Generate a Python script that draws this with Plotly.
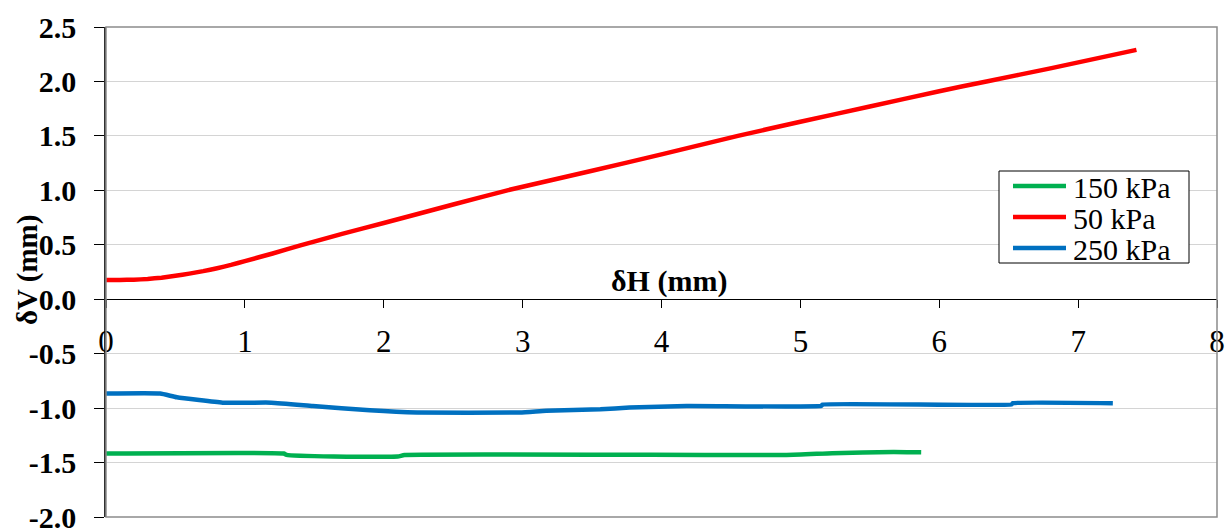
import plotly.graph_objects as go

# Horizontal displacement (mm) vs vertical displacement (mm) per normal stress
x_50 = [0, 0.1, 0.2, 0.3, 0.4, 0.5, 0.6, 0.7, 0.8, 0.9, 1.0, 1.2, 1.4, 1.7, 2.0,
        2.5, 2.89, 3.5, 4.0, 4.55, 5.0, 5.5, 6.0, 6.34, 6.8, 7.42]
y_50 = [0.177, 0.177, 0.179, 0.186, 0.198, 0.215, 0.235, 0.258, 0.285, 0.315,
        0.35, 0.42, 0.495, 0.60, 0.70, 0.87, 1.0, 1.18, 1.33, 1.50, 1.63, 1.77,
        1.91, 2.0, 2.12, 2.29]

x_150 = [0, 1.28, 1.30, 1.64, 2.10, 2.15, 4.90, 5.23, 5.67, 5.87]
y_150 = [-1.417, -1.417, -1.43, -1.445, -1.445, -1.43, -1.43, -1.414, -1.402, -1.405]

x_250 = [0, 0.39, 0.51, 0.84, 1.19, 1.49, 1.90, 2.24, 2.98, 3.17, 3.56, 3.77,
         4.18, 5.15, 5.16, 6.52, 6.53, 7.25]
y_250 = [-0.866, -0.866, -0.90, -0.95, -0.95, -0.98, -1.02, -1.04, -1.04, -1.025,
         -1.01, -0.995, -0.98, -0.98, -0.967, -0.967, -0.955, -0.955]

series_names = ["150 kPa", "50 kPa", "250 kPa"]
series_colors = ["#00B050", "#FF0000", "#0070C0"]

y_tickvals = [-2.0, -1.5, -1.0, -0.5, 0.0, 0.5, 1.0, 1.5, 2.0, 2.5]
y_ticktext = ["-2.0", "-1.5", "-1.0", "-0.5", "0.0", "0.5", "1.0", "1.5", "2.0", "2.5"]
x_tickvals = [0, 1, 2, 3, 4, 5, 6, 7, 8]

SERIF = "Liberation Serif, Tinos, Times New Roman, Times, DejaVu Serif, serif"

fig = go.Figure()
data = {"150 kPa": (x_150, y_150), "50 kPa": (x_50, y_50), "250 kPa": (x_250, y_250)}
for name, color in zip(series_names, series_colors):
    xs, ys = data[name]
    fig.add_trace(go.Scatter(x=xs, y=ys, mode="lines", name=name,
                             line=dict(color=color, width=4.5, shape="spline",
                                       smoothing=0.4),
                             showlegend=False))

# plot area in pixels: left 106, right 1217, top 27, bottom 517
L, R, T, B = 106, 1217, 27, 517
def px(xp):
    return (xp - L) / (R - L)
def py(yp):
    return (B - yp) / (B - T)

shapes = [
    dict(type="rect", xref="paper", yref="paper", x0=0, x1=1, y0=0, y1=1,
         line=dict(color="#8c8c8c", width=1.5), layer="above"),
]

# legend box with line samples
shapes.append(dict(type="rect", xref="paper", yref="paper",
                   x0=px(999), x1=px(1189), y0=py(263), y1=py(171),
                   line=dict(color="black", width=1), fillcolor="white", layer="above"))
annotations = []
legend_rows = [186, 217, 248]
for name, color, yrow in zip(series_names, series_colors, legend_rows):
    shapes.append(dict(type="line", xref="paper", yref="paper",
                       x0=px(1013), x1=px(1066), y0=py(yrow), y1=py(yrow),
                       line=dict(color=color, width=4.5), layer="above"))
    annotations.append(dict(xref="paper", yref="paper", x=px(1071), y=py(yrow + 1),
                            xanchor="left", yanchor="middle", showarrow=False,
                            text=name, font=dict(family=SERIF, size=30, color="black")))

# axis titles
annotations.append(dict(xref="paper", yref="paper", x=px(669), y=py(281),
                        xanchor="center", yanchor="middle", showarrow=False,
                        text="δH (mm)",
                        font=dict(family=SERIF, size=30, color="black", weight="bold")))
annotations.append(dict(xref="paper", yref="paper", x=px(27), y=py(270),
                        xanchor="center", yanchor="middle", showarrow=False,
                        textangle=-90, text="δV (mm)",
                        font=dict(family=SERIF, size=29, color="black", weight="bold")))

fig.update_layout(
    template="none",
    width=1226, height=530,
    margin=dict(l=L, r=1226 - R, t=T, b=530 - B, autoexpand=False),
    paper_bgcolor="white", plot_bgcolor="white",
    font=dict(family=SERIF, color="black"),
    shapes=shapes, annotations=annotations,
    xaxis=dict(range=[0, 8], tickvals=x_tickvals, ticks="outside", ticklen=8,
               tickcolor="black", tickwidth=1.2, showline=True, linecolor="black",
               linewidth=1.2, showgrid=False, zeroline=False, automargin=False,
               anchor="free", position=2.0 / 4.5, ticklabelstandoff=6,
               ticklabeloverflow="allow",
               tickfont=dict(family=SERIF, size=31, color="black")),
    yaxis=dict(range=[-2, 2.5], tickvals=y_tickvals, ticktext=y_ticktext,
               ticks="outside", ticklen=10, tickcolor="black", tickwidth=1.2,
               showline=True, linecolor="#303030", linewidth=1.5, automargin=False,
               showgrid=True, gridcolor="#d4d4d4", gridwidth=1, zeroline=False,
               ticklabelstandoff=12, ticklabeloverflow="allow",
               tickfont=dict(family=SERIF, size=30, color="black", weight="bold")),
)

fig.write_html("out.html")
